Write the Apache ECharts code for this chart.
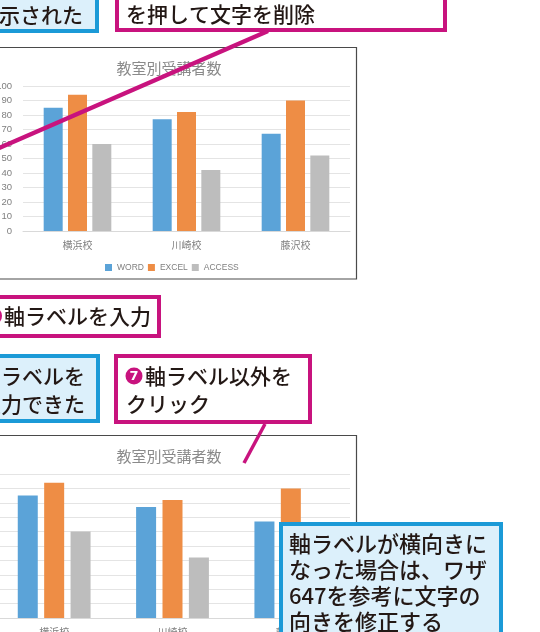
<!DOCTYPE html>
<html><head><meta charset="utf-8">
<script src="https://cdn.jsdelivr.net/npm/echarts@6/dist/echarts.min.js"></script>
<style>html,body{margin:0;padding:0;background:#fff;overflow:hidden}#c{width:540px;height:632px}</style>
</head><body><div id="c"></div>
<script>
// ---- data ----
const categories = ['横浜校', '川崎校', '藤沢校'];
const seriesNames = ['WORD', 'EXCEL', 'ACCESS'];
const wordValues = [85, 77, 67];
const excelValues = [94, 82, 90];
const accessValues = [60, 42, 52];
const yMin = 0, yMax = 100, yStep = 10;
const chartTitle = '教室別受講者数';
const calloutTop1 = '表示された';
const calloutTop2 = 'を押して文字を削除';
const calloutMid1 = '軸ラベルを入力';
const calloutMid2 = '軸ラベルを\n入力できた';
const calloutMid3a = '軸ラベル以外を';
const calloutMid3b = 'クリック';
const calloutBottom = '軸ラベルが横向きに\nなった場合は、ワザ\n647を参考に文字の\n向きを修正する';

// ---- styles ----
const colors = ['#5ba3d8', '#ee8d45', '#bdbdbd'];
const magenta = '#c8137e';
const blue = '#1b9ad7';
const blueFill = '#dcf0fb';
const ink = '#231815';
const cfont = '500 21px "Noto Sans CJK JP"';
const gray = '#7f7f7f';

const chart = echarts.init(document.getElementById('c'), null, {renderer: 'canvas'});
const values = [wordValues, excelValues, accessValues];

function xAx(i) {
  return {
    type: 'category', gridIndex: i, data: categories,
    axisTick: {show: false},
    axisLine: {lineStyle: {color: '#d9d9d9'}},
    axisLabel: {color: gray, fontSize: 10, margin: 9}
  };
}
function yAx(i) {
  return {
    type: 'value', gridIndex: i, min: yMin, max: yMax, interval: yStep,
    axisLine: {show: false}, axisTick: {show: false},
    axisLabel: {color: gray, fontSize: 9.5, margin: 11, fontFamily: 'Liberation Sans'},
    splitLine: {lineStyle: {color: '#e4e4e4'}}
  };
}
const series = [];
[0, 1].forEach(g => {
  seriesNames.forEach((n, k) => {
    series.push({
      type: 'bar', name: n, xAxisIndex: g, yAxisIndex: g,
      data: values[k], barWidth: g === 0 ? 19 : 20, barGap: g === 0 ? '28%' : '32%',
      itemStyle: {color: colors[k]}, silent: true
    });
  });
});

function rect(x, y, w, h, fill, stroke, lw) {
  return {type: 'rect', z: 100, shape: {x, y, width: w, height: h}, style: {fill, stroke, lineWidth: lw}};
}
function txt(t, x, y, font, fill, lh, align) {
  return {type: 'text', z: 101, style: {text: t, x, y, font, fill: fill || ink, align: align || 'left', textAlign: align || 'left', verticalAlign: 'middle', textVerticalAlign: 'middle', lineHeight: lh || 28}};
}

const graphics = [
  {type: 'rect', z: 50, shape: {x: -2, y: 47.5, width: 358.5, height: 231.5}, style: {fill: 'none', stroke: '#4a4a4a', lineWidth: 1.2}},
  {type: 'rect', z: 50, shape: {x: -2, y: 435.5, width: 358.5, height: 230}, style: {fill: 'none', stroke: '#4a4a4a', lineWidth: 1.2}},
  rect(-5, -5, 102, 36, blueFill, blue, 4),
  txt(calloutTop1, -22, 15, cfont),
  rect(117, -5, 328, 35, '#fff', magenta, 4),
  txt(calloutTop2, 126, 14, cfont),
  {type: 'line', z: 99, shape: {x1: 268, y1: 31, x2: -10, y2: 152}, style: {stroke: magenta, lineWidth: 4.5}},
  rect(-5, 297, 164, 39, '#fff', magenta, 4),
  {type: 'circle', z: 101, shape: {cx: -7, cy: 316, r: 9}, style: {fill: magenta}},
  txt(calloutMid1, 4, 316, cfont),
  rect(-5, 356, 103, 65, blueFill, blue, 4),
  txt(calloutMid2, -20, 390, cfont, ink, 28),
  rect(116, 356, 194, 66, '#fff', magenta, 4),
  {type: 'circle', z: 101, shape: {cx: 134, cy: 376, r: 8.5}, style: {fill: magenta}},
  txt('7', 134, 376.5, 'bold 13px "DejaVu Sans"', '#fff', 14, 'center'),
  txt(calloutMid3a, 145, 376, cfont),
  txt(calloutMid3b, 126, 404, cfont),
  {type: 'line', z: 99, shape: {x1: 265, y1: 424, x2: 244, y2: 463}, style: {stroke: magenta, lineWidth: 3.5}},
  rect(281, 524, 220, 120, blueFill, blue, 4),
  txt(calloutBottom, 289, 583, '500 22px "Noto Sans CJK JP"', ink, 26)
];

chart.setOption({
  animation: false,
  textStyle: {fontFamily: '"Noto Sans CJK JP", sans-serif'},
  title: [
    {text: chartTitle, left: 164, top: 56, textAlign: 'center', textStyle: {fontSize: 15, fontWeight: 'normal', color: '#8a8a8a'}},
    {text: chartTitle, left: 164, top: 444, textAlign: 'center', textStyle: {fontSize: 15, fontWeight: 'normal', color: '#8a8a8a'}}
  ],
  legend: {
    data: seriesNames, left: 105, top: 263, padding: 0, icon: 'rect', itemWidth: 7, itemHeight: 7, itemGap: 4,
    textStyle: {color: gray, fontSize: 8.5, fontFamily: 'Liberation Sans'}, selectedMode: false
  },
  grid: [
    {left: 23, right: 190, top: 86, height: 145, containLabel: false, outerBoundsMode: 'none'},
    {left: -5, right: 190, top: 474, height: 144, containLabel: false, outerBoundsMode: 'none'}
  ],
  xAxis: [xAx(0), xAx(1)],
  yAxis: [yAx(0), yAx(1)],
  series,
  graphic: graphics
});
</script></body></html>
